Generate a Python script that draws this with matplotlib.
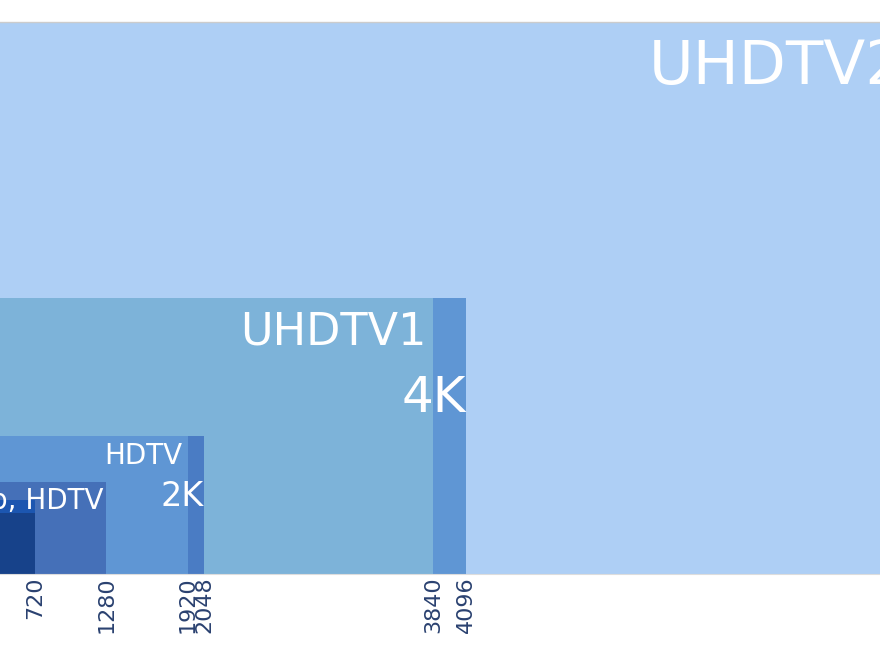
import matplotlib
matplotlib.use("Agg")
import matplotlib.pyplot as plt
from matplotlib.patches import Rectangle

names = ["UHDTV2", "4K", "UHDTV1", "2K", "HDTV", "720p", "PAL", "NTSC"]
widths = [7680, 4096, 3840, 2048, 1920, 1280, 720, 720]
heights = [4320, 2160, 2160, 1080, 1080, 720, 576, 480]
colors = ["#aecff5", "#5f96d4", "#7db3d9", "#4a7cc4", "#5f96d4", "#4570b8", "#1c56b0", "#17428a"]
ticks = [720, 1280, 1920, 2048, 3840, 4096]

fig = plt.figure(figsize=(8.8, 6.6), dpi=100)
ax = fig.add_axes([0, 0, 1, 1])
for w, h, c in zip(widths, heights, colors):
    ax.add_patch(Rectangle((0, 0), w, h, facecolor=c, edgecolor="none"))
ax.plot([447, 7343], [4320, 4320], color="#cccccc", lw=1)
ax.plot([447, 7343], [0, 0], color="#dddddd", lw=0.8)
ax.set_xlim(447, 7343)
ax.set_ylim(-673, 4492)
ax.axis("off")
for t in ticks:
    ax.text(t, -20, str(t), rotation=90, ha="center", va="top", fontsize=16, color="#2a4170")
ax.text(5530, 3960, "UHDTV2", ha="left", va="center", fontsize=44, color="white", clip_on=True)
ax.text(3790, 1890, "UHDTV1", ha="right", va="center", fontsize=32, color="white")
ax.text(4096, 1380, "4K", ha="right", va="center", fontsize=36, color="white")
ax.text(1880, 920, "HDTV", ha="right", va="center", fontsize=20, color="white")
ax.text(2040, 610, "2K", ha="right", va="center", fontsize=24, color="white")
ax.text(1260, 570, "720p, HDTV", ha="right", va="center", fontsize=20, color="white", clip_on=True)
fig.savefig("out.png", dpi=100)
